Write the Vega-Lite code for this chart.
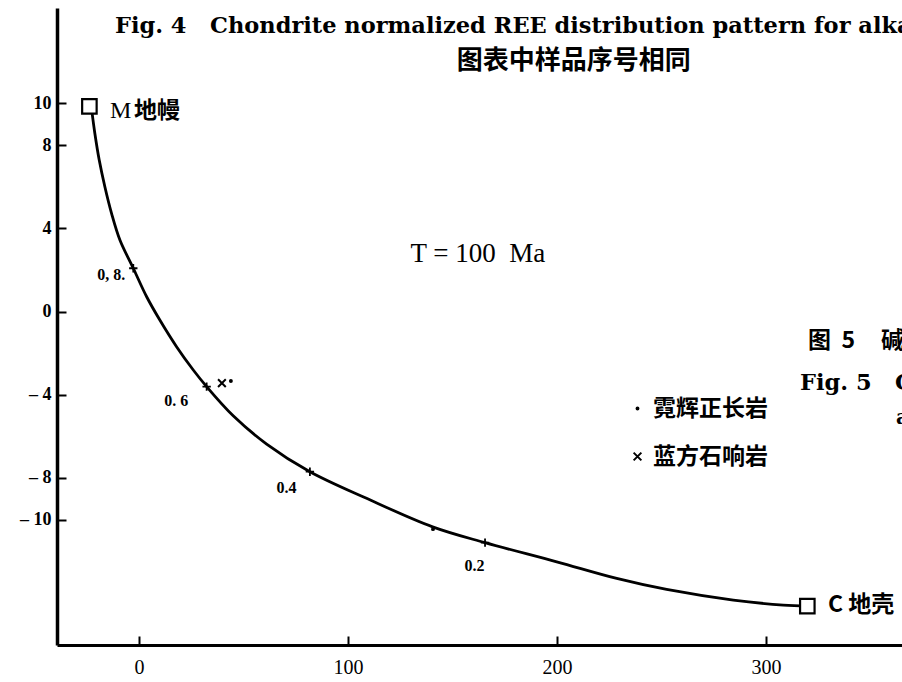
{
  "$schema": "https://vega.github.io/schema/vega-lite/v6.json",
  "width": 845,
  "height": 637,
  "autosize": {"type": "none"},
  "padding": {"left": 57, "top": 8, "right": 0, "bottom": 37},
  "background": "white",
  "config": {"view": {"stroke": null}},
  "encoding": {
    "x": {
      "field": "x", "type": "quantitative",
      "scale": {"domain": [-39.2, 365.1], "nice": false, "zero": false},
      "axis": {
        "title": null, "grid": false, "values": [0, 100, 200, 300],
        "domainColor": "black", "domainWidth": 3,
        "tickColor": "black", "tickWidth": 2, "tickSize": -9,
        "labelPadding": 21, "labelFont": "Liberation Serif", "labelFontSize": 20,
        "labelColor": "black", "labelFlush": false
      }
    },
    "y": {
      "field": "y", "type": "quantitative",
      "scale": {"domain": [-16.03, 14.59], "nice": false, "zero": false},
      "axis": {
        "title": null, "grid": false, "values": [10, 8, 4, 0, -4, -8, -10],
        "domainColor": "black", "domainWidth": 3.5,
        "tickColor": "black", "tickWidth": 2, "tickSize": -9,
        "labelPadding": 15, "labelFont": "Liberation Serif", "labelFontSize": 18,
        "labelFontWeight": "bold", "labelColor": "black", "labelFlush": false,
        "labelExpr": "datum.value < 0 ? '–\u00a0' + abs(datum.value) : datum.label"
      }
    }
  },
  "layer": [
    {
      "data": {"values": [
        {"x": -22.6, "y": 9.69}, {"x": -21.1, "y": 8.57}, {"x": -19.0, "y": 7.28},
        {"x": -16.3, "y": 6.0}, {"x": -13.1, "y": 4.72}, {"x": -9.1, "y": 3.44},
        {"x": -2.7, "y": 2.08}, {"x": 3.7, "y": 0.71}, {"x": 10.0, "y": -0.41},
        {"x": 18.0, "y": -1.69}, {"x": 26.0, "y": -2.81}, {"x": 32.4, "y": -3.61},
        {"x": 45.1, "y": -5.01}, {"x": 61.1, "y": -6.37},
        {"x": 81.8, "y": -7.70}, {"x": 108.9, "y": -8.98}, {"x": 140.5, "y": -10.35},
        {"x": 165.6, "y": -11.11}, {"x": 199.9, "y": -12.03}, {"x": 228.6, "y": -12.83},
        {"x": 252.5, "y": -13.36}, {"x": 284.4, "y": -13.87}, {"x": 308.3, "y": -14.11},
        {"x": 319.8, "y": -14.16}
      ]},
      "mark": {"type": "line", "color": "black", "strokeWidth": 2.8, "interpolate": "catmull-rom"}
    },
    {
      "data": {"values": [
        {"x": -2.7, "y": 2.08, "f": 0.8}, {"x": 32.4, "y": -3.61, "f": 0.6},
        {"x": 81.8, "y": -7.70, "f": 0.4}, {"x": 165.6, "y": -11.11, "f": 0.2}
      ]},
      "mark": {"type": "point", "shape": "M-1,0L1,0M0,-1L0,1", "size": 70, "stroke": "black", "strokeWidth": 1.8, "opacity": 1}
    },
    {
      "data": {"values": [
        {"x": -13.2, "y": 1.75, "t": "0, 8."}, {"x": 17.9, "y": -4.30, "t": "0. 6"},
        {"x": 70.6, "y": -8.49, "t": "0.4"}, {"x": 160.5, "y": -12.24, "t": "0.2"}
      ]},
      "mark": {"type": "text", "font": "Liberation Serif", "fontSize": 16, "fontWeight": "bold", "color": "black", "align": "center", "baseline": "middle"},
      "encoding": {"text": {"field": "t"}}
    },
    {
      "data": {"values": [
        {"x": -23.7, "y": 9.86, "name": "M"}, {"x": 319.8, "y": -14.16, "name": "C"}
      ]},
      "mark": {"type": "point", "shape": "square", "size": 210, "fill": "white", "filled": true, "stroke": "black", "strokeWidth": 2.2, "opacity": 1}
    },
    {
      "data": {"values": [
        {"x": 39.7, "y": -3.44, "type": "蓝方石响岩"},
        {"x": 44.0, "y": -3.34, "type": "霓辉正长岩"},
        {"x": 140.7, "y": -10.46, "type": "霓辉正长岩"}
      ]},
      "mark": {"type": "point", "filled": false, "color": "black", "strokeWidth": 2, "size": 60, "opacity": 1},
      "encoding": {
        "shape": {
          "field": "type", "type": "nominal",
          "scale": {"domain": ["霓辉正长岩", "蓝方石响岩"], "range": ["M-0.25,0A0.25,0.25 0 1,0 0.25,0A0.25,0.25 0 1,0 -0.25,0Z", "M-1,-1L1,1M-1,1L1,-1"]},
          "legend": {
            "orient": "none", "legendX": 569, "legendY": 389, "title": null,
            "padding": 0, "rowPadding": 24, "labelOffset": 4,
            "labelFont": "Noto Sans CJK SC", "labelFontSize": 23, "labelFontWeight": "bold", "labelColor": "black",
            "symbolStrokeColor": "black", "symbolStrokeWidth": 2, "symbolSize": 60, "symbolOpacity": 1
          }
        }
      }
    },
    {
      "data": {"values": [
        {"x": -11.48, "y": 13.39, "t": "Fig. 4\u00a0\u00a0 Chondrite normalized REE distribution pattern for alkaline rocks"},
        {"x": 316.3, "y": -3.77, "t": "Fig. 5\u00a0\u00a0 Chondrite normalized"}
      ]},
      "mark": {"type": "text", "font": "DejaVu Serif", "fontSize": 22.5, "fontWeight": "bold", "color": "black", "align": "left", "baseline": "alphabetic", "clip": false},
      "encoding": {"text": {"field": "t"}}
    },
    {
      "data": {"values": [
        {"x": -13.9, "y": 9.64, "t": "M"}
      ]},
      "mark": {"type": "text", "font": "Liberation Serif", "fontSize": 24, "color": "black", "align": "left", "baseline": "middle"},
      "encoding": {"text": {"field": "t"}}
    },
    {
      "data": {"values": [
        {"x": 162.2, "y": 2.76, "t": "T = 100\u00a0 Ma"}
      ]},
      "mark": {"type": "text", "font": "Liberation Serif", "fontSize": 27, "color": "black", "align": "center", "baseline": "middle"},
      "encoding": {"text": {"field": "t"}}
    },
    {
      "data": {"values": [
        {"x": -2.4, "y": 9.64, "t": "地幔"},
        {"x": 329.7, "y": -14.11, "t": "C\u00a0地壳"},
        {"x": 320.1, "y": -1.42, "t": "图\u00a0 5\u00a0\u00a0\u00a0\u00a0 碱性岩"}
      ]},
      "mark": {"type": "text", "font": "Noto Sans CJK SC", "fontSize": 23, "fontWeight": "bold", "color": "black", "align": "left", "baseline": "middle"},
      "encoding": {"text": {"field": "t"}}
    },
    {
      "data": {"values": [
        {"x": 208.1, "y": 12.04, "t": "图表中样品序号相同"}
      ]},
      "mark": {"type": "text", "font": "Noto Sans CJK SC", "fontSize": 26, "fontWeight": "bold", "color": "black", "align": "center", "baseline": "middle"},
      "encoding": {"text": {"field": "t"}}
    },
    {
      "data": {"values": [
        {"x": 362.2, "y": -5.12, "t": "alkaline"}
      ]},
      "mark": {"type": "text", "font": "DejaVu Serif", "fontSize": 20, "fontWeight": "bold", "color": "black", "align": "left", "baseline": "middle"},
      "encoding": {"text": {"field": "t"}}
    }
  ]
}
